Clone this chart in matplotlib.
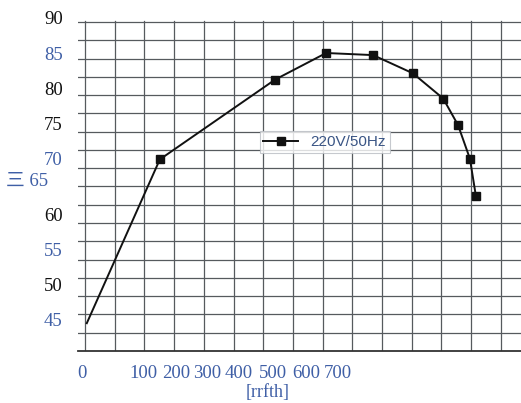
import numpy as np
import matplotlib.pyplot as plt

# data
speed = [3, 126, 320, 406, 485, 552, 603, 628, 648, 658]
eff = [46.4, 69.8, 81.2, 85.0, 84.7, 82.1, 78.5, 74.7, 69.9, 64.6]

x_labels = ['0', '100', '200', '300', '400', '500', '600', '700']
x_tick_pos = [-5, 99, 153, 205, 259, 316, 372, 426]
y_labels = ['90', '85', '80', '75', '70', '三 65   ', '60', '55', '50', '45']
y_tick_pos = [90, 85, 80, 75, 70, 67.0, 61.9, 56.9, 52.0, 47.0]
y_colors = ['#111111', '#3f5fa6', '#111111', '#111111', '#3f5fa6',
            '#3f5fa6', '#111111', '#3f5fa6', '#111111', '#3f5fa6']

blue = '#3f5fa6'
plt.rcParams['font.family'] = ['Liberation Serif', 'Noto Sans CJK SC', 'DejaVu Sans']

fig = plt.figure(figsize=(5.21, 4.03), dpi=100)
ax = fig.add_axes([78 / 521, 1 - 351 / 403, 443 / 521, 333 / 403])
ax.set_xlim(-11.8, 734)
ax.set_ylim(42.43, 90)

# grid paper
for gx in np.arange(0, 701, 50):
    ax.axvline(gx, ymax=(89.6 - 42.43) / (90 - 42.43), color='#565a5e', lw=0.9, zorder=1)
for gy in np.linspace(42.43, 89.43, 19)[1:]:
    ax.axhline(gy, color='#565a5e', lw=0.9, zorder=1)

ax.plot(speed, eff, color='#111111', lw=1.4, marker='s', ms=6,
        markevery=list(range(1, len(speed))), label='220V/50Hz', zorder=3)

for s in ['top', 'right', 'left']:
    ax.spines[s].set_visible(False)
ax.spines['bottom'].set_color('#333333')
ax.spines['bottom'].set_linewidth(1.3)

ax.set_xticks(x_tick_pos, x_labels)
ax.set_yticks(y_tick_pos, y_labels)
ax.tick_params(axis='x', length=0, pad=10, labelsize=13.5, labelcolor=blue)
ax.tick_params(axis='y', length=0, pad=11, labelsize=13.5)
for lab, c in zip(ax.get_yticklabels(), y_colors):
    lab.set_color(c)

ax.set_xlabel('[rrfth]', color=blue, fontsize=13, labelpad=0)
ax.xaxis.set_label_coords(0.427, -0.1)

leg = ax.legend(loc='center', bbox_to_anchor=(0.557, 0.628), frameon=True,
                fancybox=False, handlelength=2.3, borderpad=0.25,
                prop={'family': 'Liberation Sans', 'size': 11})
leg.get_frame().set_edgecolor('#b8bcc2')
leg.get_frame().set_linewidth(0.8)
for t in leg.get_texts():
    t.set_color('#3a5585')

fig.savefig('out.png', dpi=100)
